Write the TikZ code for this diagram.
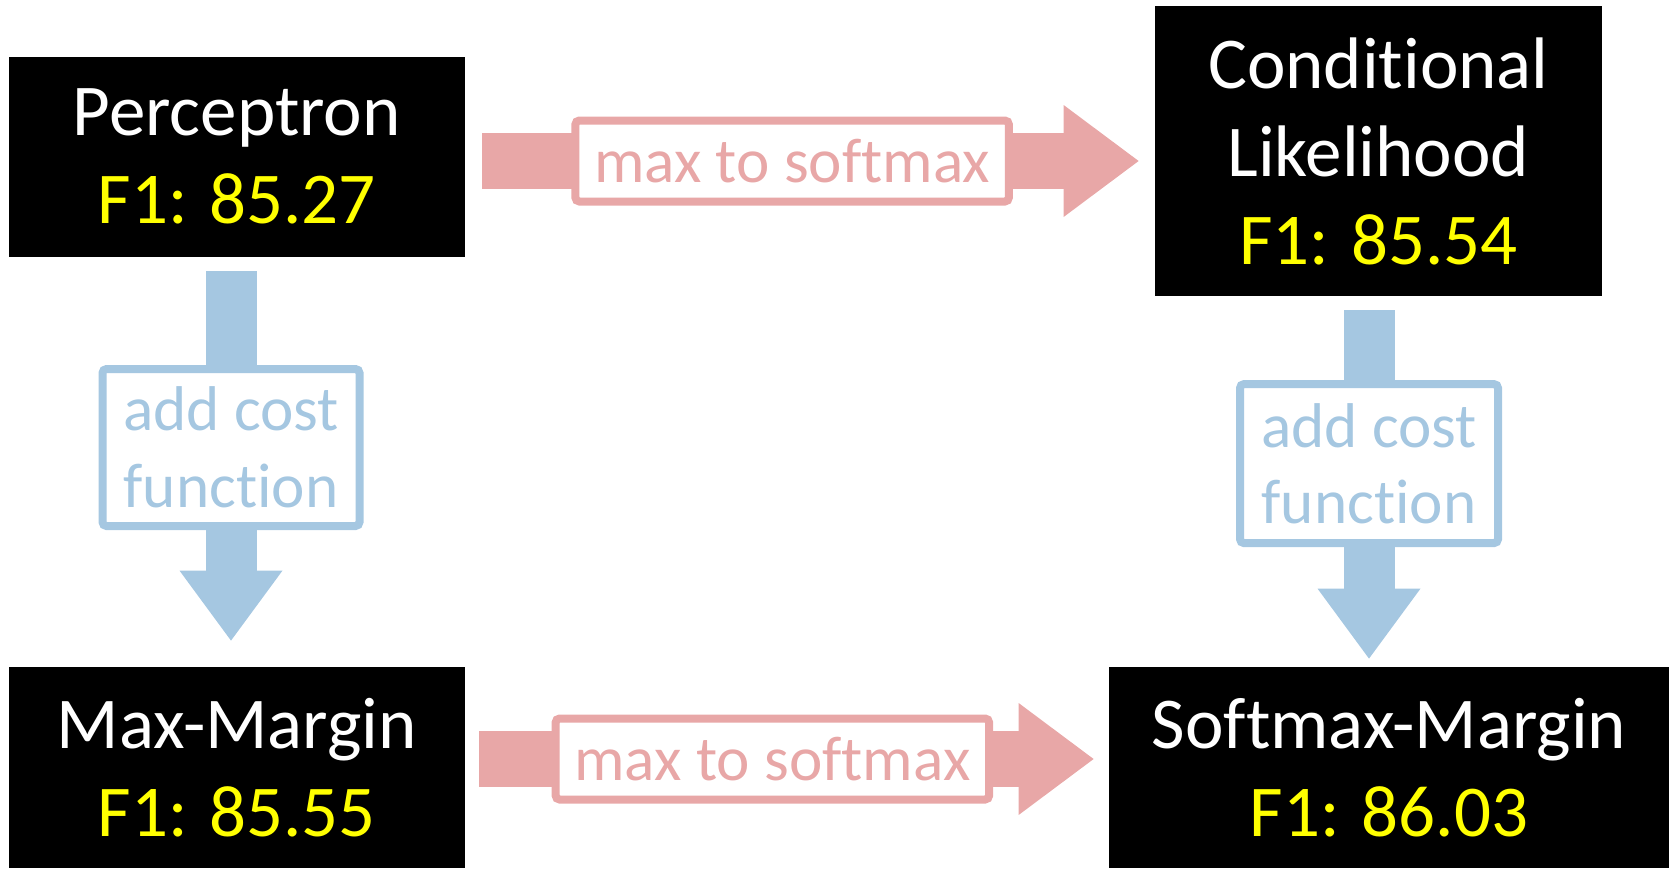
\documentclass[tikz,border=0pt]{standalone}
\usepackage{fontspec}
\setmainfont{Carlito}[Ligatures=NoCommon]
\usetikzlibrary{arrows.meta, calc}
\definecolor{pinkarr}{HTML}{E8A7A7}
\definecolor{bluearr}{HTML}{A5C7E1}
\definecolor{scoreyel}{HTML}{FFFF00}

\begin{document}
\begin{tikzpicture}[
  x=0.5pt, y=-0.5pt,
  model/.style={fill=black, text=white, inner sep=0pt, align=center,
    font=\fontsize{36.5pt}{44pt}\selectfont},
  maxsoft/.style={line width=28pt, pinkarr,
    -{Triangle[length=37.5pt, width=56pt, line width=0pt]}},
  addcost/.style={line width=25.5pt, bluearr,
    -{Triangle[length=35pt, width=51.5pt, line width=0pt]}},
  tag/.style={draw, fill=white, line width=4pt, rounded corners=2pt, inner sep=0pt,
    align=center, font=\fontsize{31.6pt}{38.3pt}\selectfont},
]
  \useasboundingbox (0,0) rectangle (1669,868);

  % Models with their scores
  \node[model, minimum width=228.25pt, minimum height=100pt] (p) at (236.75,156.5)
    {Perceptron\\\textcolor{scoreyel}{F1: 85.27}};
  \node[model, minimum width=223.5pt, minimum height=145pt] (c) at (1378.5,151)
    {Conditional\\Likelihood\\\textcolor{scoreyel}{F1: 85.54}};
  \node[model, minimum width=228.25pt, minimum height=100.5pt] (m) at (236.75,767.5)
    {Max-Margin\\\textcolor{scoreyel}{F1: 85.55}};
  \node[model, minimum width=280pt, minimum height=100.5pt] (s) at (1389,767.5)
    {Softmax-Margin\\\textcolor{scoreyel}{F1: 86.03}};

  % max to softmax (left to right)
  \draw[maxsoft] ([shift={(17,4.5)}]p.east) -- ([shift={(-16,10)}]c.west)
    node[tag, pos=0.472, minimum width=216.75pt, minimum height=40.5pt] {max to softmax};
  \draw[maxsoft] ([shift={(14,-8.5)}]m.east) -- ([shift={(-15,-8.5)}]s.west)
    node[tag, pos=0.477, minimum width=216.75pt, minimum height=40.5pt] {max to softmax};

  % add cost function (top to bottom)
  \draw[addcost] ([shift={(-5.75,14.5)}]p.south) -- ([shift={(-5.75,-26)}]m.north)
    node[tag, pos=0.477, minimum width=128.5pt, minimum height=78.5pt] {add cost\\function};
  \draw[addcost] ([shift={(-9.5,14)}]c.south) -- ([shift={(-20,-8)}]s.north)
    node[tag, pos=0.44, minimum width=129pt, minimum height=79.5pt] {add cost\\function};
\end{tikzpicture}
\end{document}
